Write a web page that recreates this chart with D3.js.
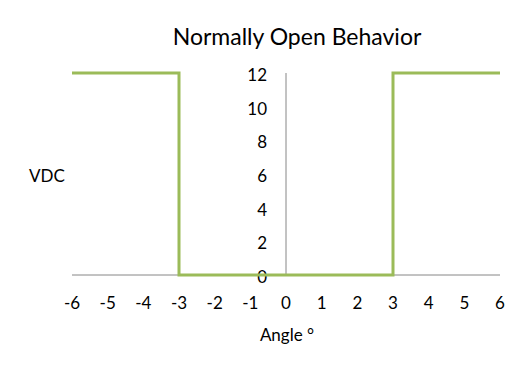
<!DOCTYPE html>
<html>
<head>
<meta charset="utf-8">
<script src="https://cdn.jsdelivr.net/npm/d3@7"></script>
<style>
  body { margin: 0; background: #fff; }
  text { font-family: Lato, "Open Sans", sans-serif; fill: #000; }
</style>
</head>
<body>
<svg id="chart" width="529" height="372"></svg>
<script>
// data
var angles = [-6, -3, -3, 3, 3, 6];
var volts  = [12, 12, 0, 0, 12, 12];
var xTicks = [-6, -5, -4, -3, -2, -1, 0, 1, 2, 3, 4, 5, 6];
var yTicks = [0, 2, 4, 6, 8, 10, 12];

var svg = d3.select('#chart');

var x = d3.scaleLinear().domain([-6, 6]).range([72, 500]);
var y = d3.scaleLinear().domain([0, 12]).range([275, 73]);

// title
svg.append('text').text('Normally Open Behavior')
    .attr('x', 297).attr('y', 45)
    .attr('text-anchor', 'middle').attr('font-size', 23);

// x axis line
svg.append('line')
    .attr('x1', x(-6)).attr('x2', x(6))
    .attr('y1', y(0)).attr('y2', y(0))
    .attr('stroke', '#868686').attr('stroke-width', 1);

// y axis line (crosses at 0)
svg.append('line')
    .attr('x1', x(0)).attr('x2', x(0))
    .attr('y1', y(0)).attr('y2', y(12))
    .attr('stroke', '#868686').attr('stroke-width', 1);

// x tick labels
svg.selectAll('.xt').data(xTicks).enter().append('text')
    .attr('class', 'xt')
    .attr('x', function(d){ return x(d); })
    .attr('y', 309)
    .attr('text-anchor', 'middle').attr('font-size', 17)
    .text(function(d){ return d; });

// y tick labels
svg.selectAll('.yt').data(yTicks).enter().append('text')
    .attr('class', 'yt')
    .attr('x', 267)
    .attr('y', function(d){ return y(d) + 8; })
    .attr('text-anchor', 'end').attr('font-size', 17)
    .text(function(d){ return d; });

// axis titles
svg.append('text').text('Angle °')
    .attr('x', 287).attr('y', 341)
    .attr('text-anchor', 'middle').attr('font-size', 17);

svg.append('text').text('VDC')
    .attr('x', 47).attr('y', 182)
    .attr('text-anchor', 'middle').attr('font-size', 17);

// the series
var line = d3.line()
    .x(function(d){ return x(d[0]); })
    .y(function(d){ return y(d[1]); });

svg.append('path')
    .datum(d3.zip(angles, volts))
    .attr('d', line)
    .attr('fill', 'none')
    .attr('stroke', '#9BBB59')
    .attr('stroke-width', 3)
    .attr('stroke-linejoin', 'miter');
</script>
</body>
</html>
